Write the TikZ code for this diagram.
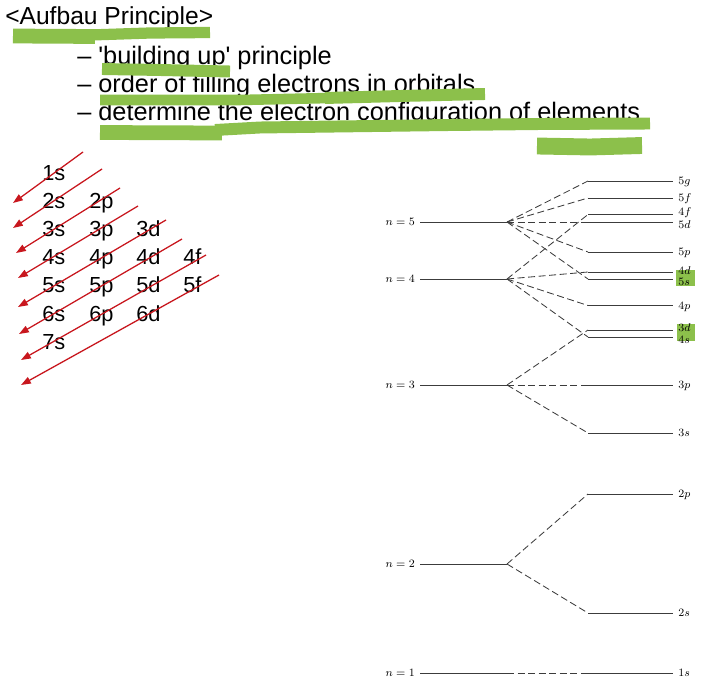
\documentclass[tikz,border=0pt]{standalone}
\usepackage{fontspec}
\setmainfont{Liberation Sans}
\usepackage{xcolor}
\definecolor{hlgreen}{HTML}{8CC04B}
\definecolor{arrred}{HTML}{C8171E}
\definecolor{lvgray}{HTML}{3C3C3C}
\usetikzlibrary{arrows.meta}

\begin{document}
\begin{tikzpicture}[x=0.025cm,y=-0.025cm,
 head/.style={anchor=base west,inner sep=0pt,font=\fontsize{17.5}{21}\selectfont},
 item/.style={anchor=base west,inner sep=0pt,font=\fontsize{18}{22}\selectfont},
 orb/.style={anchor=base west,inner sep=0pt,font=\fontsize{15.5}{18}\selectfont},
 hl/.style={draw=hlgreen,line join=round},
 parr/.style={-{Triangle[length=7pt,width=5pt]},draw=arrred,fill=arrred,line width=0.9pt},
 shell/.style={anchor=east,inner xsep=3.5pt,inner ysep=0pt,font=\fontsize{8.5}{10}\selectfont},
 sub/.style={anchor=west,inner sep=0pt,text height=5.6pt,text depth=0.2pt,%
   font=\fontsize{8.5}{10}\selectfont},
 lvl/.style={draw=lvgray,line width=0.6pt},
 split/.style={lvl,dash pattern=on 5pt off 2.5pt}]
\useasboundingbox (0,0) rectangle (712,683);

% header
\node[head] (title) at (5,25) {<Aufbau Principle>};
\node[item] (it1) at (77,64.5) {-- \textquotesingle building up\textquotesingle{} principle};
\node[item] (it2) at (77,92.5) {-- order of filling electrons in orbitals};
\node[item] (it3) at (77,120.5) {-- determine the electron configuration of elements};

% highlighter
\draw[hl,line width=10.5pt] (13,36) -- (95,36.5);
\draw[hl,line width=8pt] (90,35) -- (150,33) -- (210,32.5);
\draw[hl,line width=8.5pt] (102,69) -- (160,70) -- (230,71.5);
\draw[hl,line width=7.5pt] (100,100) -- (240,100) -- (330,98);
\draw[hl,line width=8.5pt] (325,98) -- (400,96) -- (485,94);
\draw[hl,line width=10.5pt] (100,132.5) -- (222,133);
\draw[hl,line width=8.5pt] (215,130) -- (260,127.5) -- (450,125) -- (540,124) -- (650,123.5);
\draw[hl,line width=12pt] (537,146) -- (590,147) -- (642,145.5);

% filling order table
\foreach \r/\row in {1/{1s},2/{2s,2p},3/{3s,3p,3d},4/{4s,4p,4d,4f},%
  5/{5s,5p,5d,5f},6/{6s,6p,6d},7/{7s}}{
  \foreach \o [count=\c] in \row
    \node[orb] (o\o) at (42+47*\c-47,180+28.2*\r-28.2) {\o};
}
\foreach \xa/\ya/\xb/\yb in {83/152/13/203,102/169/13/228,120/188/16/253,%
  138/206/18/278,166/220/18/307,182/239/19/334,206/255/21/360,219/275/21/385}
  \draw[parr] (\xa,\ya) -- (\xb,\yb);

% energy levels
\fill[hlgreen] (676,270) rectangle (695,286);
\fill[hlgreen] (677,324) rectangle (695,341);
\foreach \n/\yy in {5/222,4/279,3/385,2/564,1/673}{
  \node[shell] (n\n) at (420,\yy) {$n = \n$};
  \coordinate (b\n) at (507,\yy);
  \draw[lvl] (n\n.east) -- (b\n);
}
\foreach \s/\yy/\ty in {5g/181/181,5f/198/198,4f/214.5/212,5d/222/225,5p/252/252,%
  4d/272/271,5s/279/282,4p/305.5/305.5,3d/330/328,4s/337/340,3p/385/385,%
  3s/433/433,2p/494/494,2s/613/613,1s/673/673}{
  \coordinate (c\s) at (588,\yy);
  \coordinate (e\s) at (673,\yy);
  \node[sub] (t\s) at (678,\ty) {$\s$};
  \draw[lvl] (c\s) -- (e\s);
}
\foreach \n/\s in {5/5g,5/5f,5/5d,5/5p,5/5s,4/4f,4/4d,4/4p,4/4s,%
  3/3d,3/3p,3/3s,2/2p,2/2s,1/1s}
  \draw[split] (b\n) -- (c\s);
\end{tikzpicture}
\end{document}
